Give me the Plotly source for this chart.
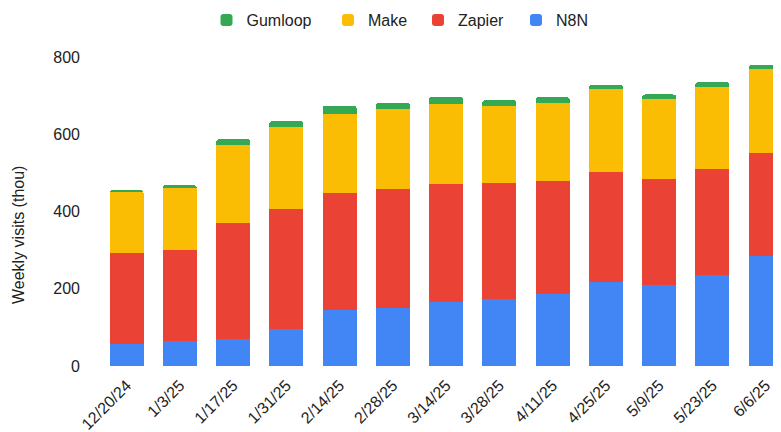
import plotly.graph_objects as go

dates = ["12/20/24", "1/3/25", "1/17/25", "1/31/25", "2/14/25", "2/28/25", "3/14/25",
         "3/28/25", "4/11/25", "4/25/25", "5/9/25", "5/23/25", "6/6/25"]
n8n = [56, 64, 71, 96, 144, 150, 166, 173, 187, 217, 209, 235, 285]
zapier = [237, 236, 298, 310, 305, 309, 305, 302, 291, 286, 276, 276, 266]
make = [158, 163, 204, 214, 203, 207, 207, 199, 204, 214, 207, 211, 218]
gumloop = [3, 5, 14, 14, 22, 15, 18, 14, 14, 11, 11, 13, 10]

FONT = "Liberation Sans, Arial, sans-serif"
OFF = 8  # page body margin
W, H = 781, 432
# plot area in page pixels
PL, PR, PT, PB = 100, 781, 57, 366
FL, FR, FT, FB = PL - OFF, PR - OFF, PT - OFF, PB - OFF
FW, FH = FR - FL, FB - FT

def px_x(p):
    return (p - OFF - FL) / FW

def px_y(p):
    return (FB - (p - OFF)) / FH

series = [("N8N", n8n, "#4285F4", "legend4", 536.5),
          ("Zapier", zapier, "#EA4335", "legend3", 438.5),
          ("Make", make, "#FBBC04", "legend2", 348.5),
          ("Gumloop", gumloop, "#34A853", "legend", 227)]

fig = go.Figure()
for name, vals, col, leg, _ in series:
    fig.add_trace(go.Bar(x=dates, y=vals, name=name, legend=leg, showlegend=True,
                         marker=dict(color=col, line=dict(width=0))))

layout = dict(
    showlegend=True,
    barmode="stack",
    bargap=0.36,
    barcornerradius=3,
    width=W, height=H,
    margin=dict(l=FL, r=W - FR, t=FT, b=H - FB, autoexpand=False),
    paper_bgcolor="white", plot_bgcolor="white",
    font=dict(family=FONT, size=16, color="#222222"),
    xaxis=dict(type="category", range=[-0.5, 12.29], tickangle=-45, showgrid=False,
               showline=False, ticks="", tickfont=dict(size=16), automargin=False,
               ticklabelstandoff=6),
    yaxis=dict(range=[0, 800], tickvals=[0, 200, 400, 600, 800], showgrid=False,
               zeroline=False, showline=False, ticks="", ticklabelstandoff=19,
               tickfont=dict(size=16), automargin=False),
    annotations=[dict(text="Weekly visits (thou)", xref="paper", yref="paper",
                      x=px_x(18), y=px_y(235), xanchor="center", yanchor="middle",
                      textangle=-90, showarrow=False, font=dict(size=16, color="#222222"))],
)
for name, vals, col, leg, cx in series:
    layout[leg] = dict(orientation="h", x=px_x(cx - 20.5), xanchor="left",
                       y=px_y(20), yanchor="middle", bgcolor="rgba(0,0,0,0)",
                       font=dict(size=16, color="#222222"), visible=True)
fig.update_layout(**layout)

fig.write_html("out.html")
